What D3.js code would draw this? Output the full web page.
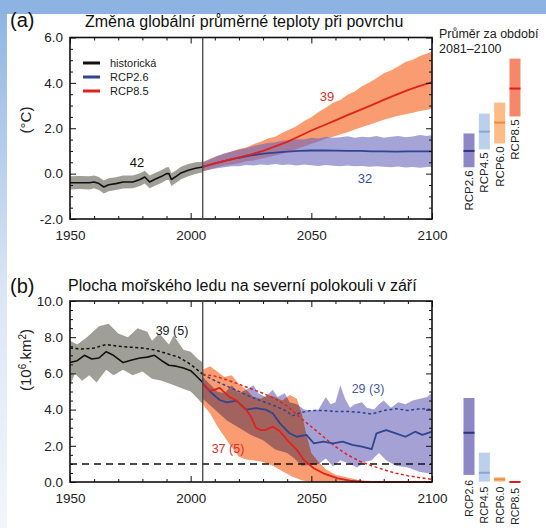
<!DOCTYPE html>
<html><head><meta charset="utf-8">
<script src="https://cdn.jsdelivr.net/npm/d3@7"></script>
<style>
html,body{margin:0;padding:0;background:#fff;}
svg{display:block;font-family:"Liberation Sans",Arial,Helvetica,sans-serif;}
</style></head><body>
<svg id="chart" width="546" height="528"></svg>
<script>
// ---------- Panel (a): global mean surface temperature change ----------
const tempHistYears = [1950,1954,1958,1960,1962,1964,1966,1969,1972,1976,1979,1981,1983,1985,1988,1990,1991,1992,1994,1996,1999,2002,2005];
const tempHistMean  = [-0.40,-0.40,-0.40,-0.37,-0.44,-0.59,-0.49,-0.44,-0.37,-0.37,-0.26,-0.15,-0.37,-0.26,-0.12,0.0,0.0,-0.26,-0.12,0.03,0.15,0.24,0.29];
const tempHistUpper = [-0.12,-0.10,-0.12,-0.08,-0.15,-0.30,-0.20,-0.16,-0.08,-0.08,0.02,0.13,-0.08,0.02,0.16,0.28,0.28,0.02,0.15,0.30,0.42,0.50,0.52];
const tempHistLower = [-0.70,-0.68,-0.70,-0.65,-0.72,-0.88,-0.78,-0.72,-0.66,-0.65,-0.55,-0.43,-0.65,-0.54,-0.40,-0.28,-0.28,-0.55,-0.40,-0.25,-0.12,-0.02,0.06];

const projYears = [2005,2010,2015,2020,2025,2030,2035,2040,2045,2050,2055,2060,2065,2070,2075,2080,2085,2090,2095,2100];
const rcp85TempMean  = [0.30,0.45,0.58,0.72,0.85,1.00,1.20,1.40,1.65,1.90,2.12,2.35,2.58,2.80,3.02,3.25,3.47,3.68,3.87,4.03];
const rcp26TempMean  = [0.30,0.45,0.58,0.70,0.80,0.88,0.93,0.97,1.00,1.02,1.02,1.01,1.00,1.00,0.98,0.98,0.97,0.98,0.98,0.98];

const bandYears = [2005,2008,2011,2014,2017,2020,2023,2026,2029,2032,2035,2038,2041,2044,2047,2050,2053,2056,2059,2062,2065,2068,2071,2074,2077,2080,2083,2086,2089,2092,2095,2098,2100];
const rcp85TempUpper = [0.50,0.66,0.78,0.86,0.98,1.08,1.15,1.30,1.40,1.55,1.62,1.80,1.95,2.10,2.32,2.48,2.72,2.90,3.12,3.25,3.48,3.62,3.85,4.02,4.20,4.42,4.55,4.72,4.92,5.02,5.18,5.30,5.38];
const rcp85TempLower = [0.10,0.18,0.28,0.36,0.40,0.46,0.55,0.58,0.66,0.72,0.80,0.88,0.98,1.08,1.20,1.32,1.42,1.55,1.62,1.72,1.82,1.95,2.05,2.15,2.26,2.38,2.46,2.55,2.62,2.68,2.76,2.82,2.86];
const rcp26TempUpper = [0.50,0.62,0.78,0.90,0.98,1.05,1.12,1.22,1.28,1.35,1.38,1.45,1.48,1.52,1.50,1.58,1.55,1.62,1.58,1.60,1.65,1.58,1.62,1.60,1.66,1.58,1.62,1.66,1.60,1.64,1.70,1.66,1.70];
const rcp26TempLower = [0.10,0.18,0.24,0.28,0.33,0.32,0.38,0.36,0.40,0.38,0.42,0.38,0.40,0.36,0.40,0.37,0.34,0.38,0.35,0.33,0.36,0.32,0.34,0.30,0.33,0.30,0.28,0.31,0.27,0.29,0.26,0.29,0.29];

// ---------- Panel (b): Northern Hemisphere September sea ice extent ----------
const iceHistYears  = [1950,1953,1956,1959,1962,1965,1968,1972,1976,1979,1982,1985,1988,1991,1994,1997,2000,2002,2005];
const iceHistMean   = [6.6,6.7,7.0,6.8,6.85,7.2,7.0,6.6,6.75,6.85,6.9,7.0,6.7,6.45,6.4,6.3,6.15,5.9,5.5];
const iceHistSubYears = [1950,1955,1960,1965,1970,1975,1980,1985,1990,1995,2000,2005];
const iceHistSub    = [7.4,7.35,7.4,7.6,7.5,7.45,7.4,7.3,7.1,6.9,6.5,5.95];
const iceHistUpperYears = [1950,1953,1957,1962,1966,1970,1974,1978,1982,1984,1987,1991,1993,1997,2000,2003,2005];
const iceHistUpper  = [7.8,7.6,8.0,8.6,8.75,8.2,8.0,8.5,8.3,7.8,8.2,7.6,8.1,7.3,7.2,6.8,6.6];
const iceHistLowerYears = [1950,1952,1955,1958,1961,1965,1968,1972,1976,1980,1984,1988,1992,1996,2000,2003,2005];
const iceHistLower  = [5.3,6.0,5.6,5.9,5.5,6.2,5.9,6.2,5.9,6.1,5.7,5.6,5.4,5.2,5.0,4.6,4.3];

const rcp85IceYears = [2005,2008,2010,2012,2016,2019,2023,2025,2027,2029,2031,2034,2037,2040,2044,2047,2051,2055,2061,2066,2072,2100];
const rcp85IceMean  = [5.4,5.05,5.1,5.2,4.7,4.5,4.0,3.6,3.0,2.87,2.87,3.06,2.8,2.32,1.77,1.2,0.76,0.48,0.2,0.07,0.0,0.0];
const rcp85IceSubYears = [2005,2010,2015,2020,2025,2030,2035,2040,2045,2050,2055,2060,2065,2070,2075,2080,2085,2090,2095,2100];
const rcp85IceSub   = [5.95,5.85,5.65,5.4,5.15,4.9,4.6,4.2,3.6,3.05,2.5,1.95,1.5,1.15,0.9,0.68,0.48,0.35,0.24,0.15];
const rcp85IceUpperYears = [2005,2008,2011,2014,2017,2020,2023,2026,2029,2032,2035,2038,2041,2044,2046,2048,2050,2053,2056,2060,2065,2070,2075,2080,2100];
const rcp85IceUpper = [6.2,6.4,6.1,5.8,5.9,5.4,5.1,4.7,4.6,4.8,4.7,4.5,4.8,4.6,3.8,2.6,1.6,1.1,0.7,0.4,0.25,0.1,0.05,0.02,0.0];
const rcp85IceLowerYears = [2005,2008,2011,2014,2017,2020,2023,2026,2030,2034,2038,2042,2046,2050,2100];
const rcp85IceLower = [4.3,3.8,3.1,2.5,1.9,1.4,1.25,1.2,1.1,0.9,0.6,0.3,0.1,0.0,0.0];

const rcp26IceYears = [2005,2008,2012,2015,2019,2023,2027,2031,2034,2037,2041,2044,2048,2051,2055,2059,2063,2067,2071,2075,2077,2081,2085,2089,2093,2096,2100];
const rcp26IceMean  = [5.45,5.0,4.53,4.4,4.5,4.0,4.08,4.0,3.8,3.24,2.69,2.5,2.6,2.14,2.23,2.14,2.23,2.05,1.96,1.81,2.69,2.87,2.69,2.5,2.78,2.6,2.78];
const rcp26IceSubYears = [2005,2010,2015,2020,2025,2030,2035,2040,2042,2046,2050,2055,2060,2065,2070,2075,2080,2085,2090,2095,2100];
const rcp26IceSub   = [5.95,5.6,5.3,5.0,4.7,4.45,4.2,3.9,3.65,3.85,3.95,3.95,3.9,3.9,3.85,3.75,3.95,4.05,3.95,4.05,4.0];
const rcp26IceUpperYears = [2005,2008,2011,2014,2017,2020,2023,2026,2028,2031,2034,2036,2039,2041,2044,2047,2050,2053,2056,2058,2060,2062,2064,2066,2068,2071,2073,2076,2078,2080,2083,2086,2089,2092,2095,2098,2100];
const rcp26IceUpper = [5.8,5.4,5.0,4.9,5.35,4.9,5.1,5.35,4.9,4.7,5.1,4.7,4.9,4.4,4.3,4.0,3.95,4.0,4.7,4.3,4.4,5.35,4.6,4.1,4.3,4.4,4.1,4.0,4.3,4.5,4.1,4.4,4.3,4.5,4.6,4.7,4.95];
const rcp26IceLowerYears = [2005,2010,2015,2020,2025,2030,2035,2040,2043,2046,2050,2053,2056,2059,2062,2066,2069,2072,2075,2078,2081,2085,2090,2095,2100];
const rcp26IceLower = [4.6,4.0,3.4,3.0,2.6,2.3,1.8,1.6,1.3,0.9,0.95,1.0,1.3,0.85,1.2,1.0,0.8,1.1,1.2,1.6,1.2,0.9,0.8,0.55,0.45];

const iceThreshold = 1.0;

// ---------- Right-hand bars: 2081–2100 averages ----------
const scenarios = ["RCP2.6","RCP4.5","RCP6.0","RCP8.5"];
const tempBarMean = [1.0,1.85,2.25,3.75];
const tempBarLow  = [0.28,1.07,1.33,2.52];
const tempBarHigh = [1.77,2.65,3.13,5.07];
const iceBarMean  = [2.72,0.51,0.15,0.0];
const iceBarLow   = [0.39,0.02,0.02,0.0];
const iceBarHigh  = [4.64,1.62,0.26,0.05];

const legendLabels = ["historická","RCP2.6","RCP8.5"];
const xMajorTicks = [1950,2000,2050,2100];
const tempYTicks = [-2,0,2,4,6];
const iceYTicks = [0,2,4,6,8,10];

// ---------- styling ----------
const C = {
  hist:"#111", histBand:"#a09f97",
  r26:"#2f4592", r26Band:"#6b66bd", r26BandB:"#9c97cf",
  r85:"#e0221c", r85Band:"#f99c72",
  barFill:["#8e87c6","#bcd0ec","#fbbd85","#f6876a"],
  barLine:["#2c3480","#86a6d3","#f08c3c","#e3191c"]
};

const svg = d3.select("#chart");
const W = 546, H = 528;

// slide background
const defs = svg.append("defs");
const grad = defs.append("linearGradient").attr("id","lg").attr("x1",0).attr("y1",0).attr("x2",0).attr("y2",1);
grad.append("stop").attr("offset","0%").attr("stop-color","#8db3e2");
grad.append("stop").attr("offset","55%").attr("stop-color","#dbe6f5");
grad.append("stop").attr("offset","100%").attr("stop-color","#f3f6fb");
svg.append("rect").attr("width",W).attr("height",H).attr("fill","#fff");
svg.append("rect").attr("x",0).attr("y",0).attr("width",7).attr("height",H).attr("fill","url(#lg)");
svg.append("rect").attr("x",0).attr("y",0).attr("width",W).attr("height",14).attr("fill","#8db3e2");

const x = d3.scaleLinear().domain([1950,2100]).range([70,432]);
const yA = d3.scaleLinear().domain([-2,6]).range([219,37.5]);
const yB = d3.scaleLinear().domain([0,10]).range([482,301]);
const xb = d3.scalePoint().domain(scenarios).range([469,515]);

function zip(a,b){ return d3.zip(a,b); }

function drawArea(g, y, lowerYears, lower, upperYears, upper, fill, op, blend){
  const up = zip(upperYears, upper).map(d=>[x(d[0]), y(d[1])]);
  const lo = zip(lowerYears, lower).map(d=>[x(d[0]), y(d[1])]).reverse();
  const p = g.append("path").attr("d", d3.line()(up.concat(lo)) + "Z")
    .attr("fill", fill).attr("fill-opacity", op).attr("stroke","none");
  if (blend) p.style("mix-blend-mode", blend);
}
function drawLine(g, y, years, vals, color, w, dash){
  const p = g.append("path").datum(zip(years, vals))
    .attr("d", d3.line().x(d=>x(d[0])).y(d=>y(d[1])))
    .attr("fill","none").attr("stroke",color).attr("stroke-width",w)
    .attr("stroke-linejoin","round");
  if (dash) p.attr("stroke-dasharray", dash);
}

function drawAxes(y, yTicks){
  const g = svg.append("g");
  const minorX = d3.range(1960,2100,10).filter(v=>!xMajorTicks.includes(v));
  const minorY = d3.range(y.domain()[0], y.domain()[1]+0.01, 0.5).filter(v=>!yTicks.includes(v));
  const y0 = y.range()[0], y1 = y.range()[1];
  const style = s => s.call(a=>a.select(".domain").remove())
      .attr("font-family","Liberation Sans, Arial, sans-serif")
      .attr("font-size",13.5)
      .call(a=>a.selectAll("line").attr("stroke","#111").attr("stroke-width",1))
      .call(a=>a.selectAll("text").attr("fill","#222"));
  g.append("g").attr("transform",`translate(0,${y0})`).call(d3.axisBottom(x).tickValues(xMajorTicks).tickSize(-6).tickPadding(11).tickFormat(d3.format("d"))).call(style);
  g.append("g").attr("transform",`translate(0,${y0})`).call(d3.axisBottom(x).tickValues(minorX).tickSize(-3).tickFormat("")).call(style);
  g.append("g").attr("transform",`translate(0,${y1})`).call(d3.axisTop(x).tickValues(xMajorTicks).tickSize(-6).tickFormat("")).call(style);
  g.append("g").attr("transform",`translate(0,${y1})`).call(d3.axisTop(x).tickValues(minorX).tickSize(-3).tickFormat("")).call(style);
  g.append("g").attr("transform",`translate(${x(1950)},0)`).call(d3.axisLeft(y).tickValues(yTicks).tickSize(-6).tickPadding(7).tickFormat(d=>d3.format(".1f")(d).replace("−","-"))).call(style);
  g.append("g").attr("transform",`translate(${x(1950)},0)`).call(d3.axisLeft(y).tickValues(minorY).tickSize(-3).tickFormat("")).call(style);
  g.append("g").attr("transform",`translate(${x(2100)},0)`).call(d3.axisRight(y).tickValues(yTicks).tickSize(-6).tickFormat("")).call(style);
  g.append("g").attr("transform",`translate(${x(2100)},0)`).call(d3.axisRight(y).tickValues(minorY).tickSize(-3).tickFormat("")).call(style);
  g.append("rect").attr("x",x(1950)).attr("y",y1).attr("width",x(2100)-x(1950)).attr("height",y0-y1)
    .attr("fill","none").attr("stroke","#111").attr("stroke-width",1.6);
  svg.append("line").attr("x1",x(2005)).attr("x2",x(2005)).attr("y1",y1).attr("y2",y0)
    .attr("stroke","#444").attr("stroke-width",1.3);
}

function drawBars(y, mean, low, high, gap, fs){
  const g = svg.append("g");
  const bw = 11;
  scenarios.forEach((s,i)=>{
    const cx = xb(s);
    const top = y(high[i]), bot = y(low[i]);
    g.append("rect").attr("x",cx-bw/2).attr("y",top).attr("width",bw).attr("height",Math.max(bot-top,0.8))
      .attr("fill",C.barFill[i]);
    g.append("line").attr("x1",cx-bw/2).attr("x2",cx+bw/2).attr("y1",y(mean[i])).attr("y2",y(mean[i]))
      .attr("stroke",C.barLine[i]).attr("stroke-width",2);
    g.append("text").attr("transform",`translate(${cx+4},${Math.max(bot, y(mean[i])+1)+gap}) rotate(-90)`)
      .attr("text-anchor","end").attr("font-size",fs).attr("fill","#222").text(s);
  });
}

// ================= Panel (a) =================
const ga = svg.append("g").style("isolation","isolate");
drawArea(ga, yA, tempHistYears, tempHistLower, tempHistYears, tempHistUpper, C.histBand, 1);
drawArea(ga, yA, bandYears, rcp85TempLower, bandYears, rcp85TempUpper, C.r85Band, 1);
drawArea(ga, yA, bandYears, rcp26TempLower, bandYears, rcp26TempUpper, C.r26Band, 0.6);
drawLine(ga, yA, projYears, rcp26TempMean, C.r26, 1.8);
drawLine(ga, yA, projYears, rcp85TempMean, C.r85, 1.8);
drawLine(ga, yA, tempHistYears, tempHistMean, C.hist, 1.6);
drawAxes(yA, tempYTicks);
drawBars(yA, tempBarMean, tempBarLow, tempBarHigh, 3, 11.5);

const legColors = [C.hist, C.r26, C.r85];
legendLabels.forEach((l,i)=>{
  const ly = 63 + i*14;
  svg.append("line").attr("x1",83).attr("x2",100).attr("y1",ly).attr("y2",ly)
    .attr("stroke",legColors[i]).attr("stroke-width",3);
  svg.append("text").attr("x",110).attr("y",ly+4).attr("font-size",11).attr("fill","#222").text(l);
});

svg.append("text").attr("x",137).attr("y",167).attr("text-anchor","middle").attr("font-size",13).attr("fill","#111").text("42");
svg.append("text").attr("x",327).attr("y",101).attr("text-anchor","middle").attr("font-size",13).attr("fill","#d8302a").text("39");
svg.append("text").attr("x",365).attr("y",183).attr("text-anchor","middle").attr("font-size",13).attr("fill","#3a4d96").text("32");

svg.append("text").attr("x",10).attr("y",27).attr("font-size",20).attr("fill","#111").text("(a)");
svg.append("text").attr("x",85).attr("y",27).attr("font-size",16).attr("fill","#111").text("Změna globální průměrné teploty při povrchu");
svg.append("text").attr("transform","translate(31,120) rotate(-90)").attr("text-anchor","middle").attr("font-size",15).attr("fill","#222").text("(°C)");
svg.append("text").attr("x",439).attr("y",38).attr("font-size",12.5).attr("fill","#222").text("Průměr za období");
svg.append("text").attr("x",439).attr("y",53).attr("font-size",12.5).attr("fill","#222").text("2081–2100");

// ================= Panel (b) =================
const gb = svg.append("g").style("isolation","isolate");
drawArea(gb, yB, iceHistLowerYears, iceHistLower, iceHistUpperYears, iceHistUpper, C.histBand, 1);
drawArea(gb, yB, rcp85IceLowerYears, rcp85IceLower, rcp85IceUpperYears, rcp85IceUpper, C.r85Band, 1);
drawArea(gb, yB, rcp26IceLowerYears, rcp26IceLower, rcp26IceUpperYears, rcp26IceUpper, C.r26BandB, 0.9, "multiply");
drawLine(gb, yB, [1950,2100], [iceThreshold, iceThreshold], "#111", 1.5, "7,5");
drawLine(gb, yB, rcp26IceSubYears, rcp26IceSub, C.r26, 1.5, "3,2.5");
drawLine(gb, yB, rcp85IceSubYears, rcp85IceSub, C.r85, 1.5, "3,2.5");
drawLine(gb, yB, iceHistSubYears, iceHistSub, C.hist, 1.5, "3,2.5");
drawLine(gb, yB, rcp26IceYears, rcp26IceMean, C.r26, 1.8);
drawLine(gb, yB, rcp85IceYears, rcp85IceMean, C.r85, 1.8);
drawLine(gb, yB, iceHistYears, iceHistMean, C.hist, 1.6);
drawAxes(yB, iceYTicks);
drawBars(yB, iceBarMean, iceBarLow, iceBarHigh, 5, 10.5);

svg.append("text").attr("x",172).attr("y",335).attr("text-anchor","middle").attr("font-size",12.5).attr("fill","#222").text("39 (5)");
svg.append("text").attr("x",228).attr("y",453).attr("text-anchor","middle").attr("font-size",12.5).attr("fill","#d8302a").text("37 (5)");
svg.append("text").attr("x",368).attr("y",393).attr("text-anchor","middle").attr("font-size",12.5).attr("fill","#4a5a9e").text("29 (3)");

svg.append("text").attr("x",10).attr("y",293).attr("font-size",20).attr("fill","#111").text("(b)");
svg.append("text").attr("x",68).attr("y",291).attr("font-size",16).attr("fill","#111").text("Plocha mořského ledu na severní polokouli v září");
const yl = svg.append("text").attr("transform","translate(31,360) rotate(-90)").attr("text-anchor","middle").attr("font-size",15).attr("fill","#222");
yl.append("tspan").text("(10");
yl.append("tspan").attr("dy",-5).attr("font-size",10).text("6");
yl.append("tspan").attr("dy",5).text(".km");
yl.append("tspan").attr("dy",-5).attr("font-size",10).text("2");
yl.append("tspan").attr("dy",5).text(")");
</script>
</body></html>
